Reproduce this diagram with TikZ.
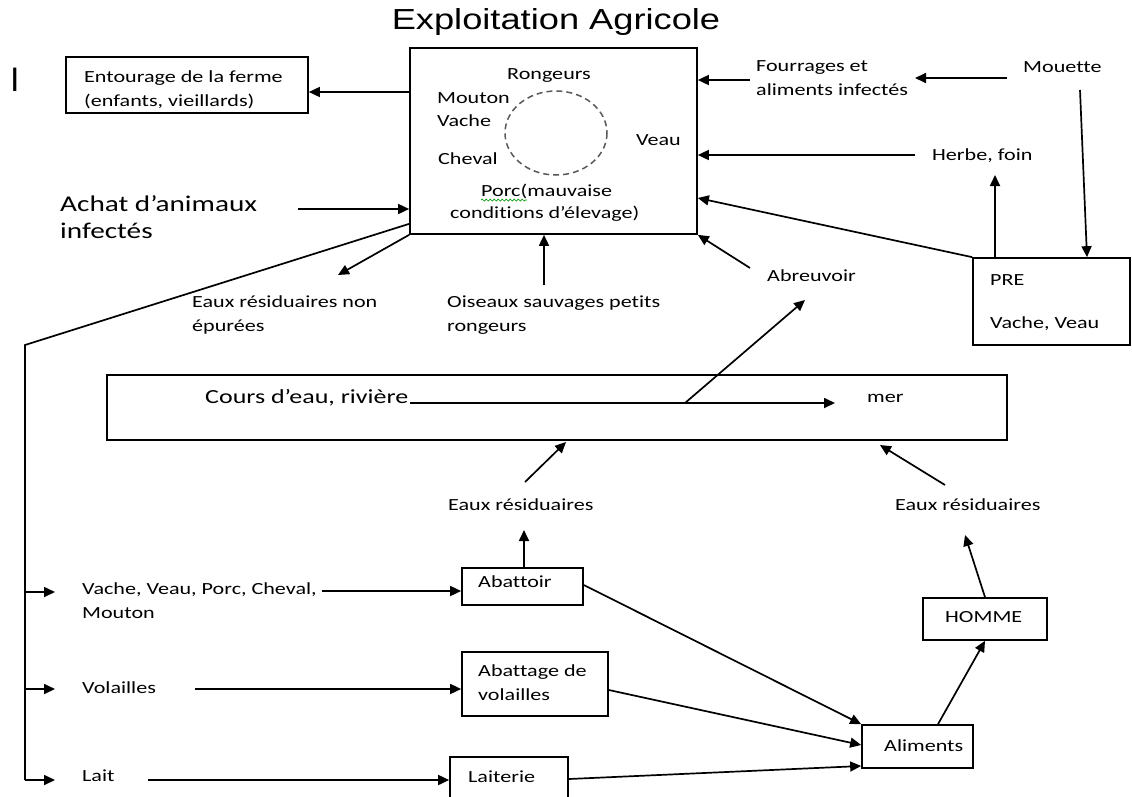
\documentclass[tikz,border=0pt]{standalone}
\usepackage{fontspec}
\setmainfont{Carlito}[FakeStretch=1.3, Ligatures=NoCommon]
\newfontfamily\titlefont{Liberation Sans}[FakeStretch=1.25]
\newfontfamily\barfont{Liberation Sans}
\usetikzlibrary{arrows.meta,decorations.pathmorphing}
\begin{document}
\begin{tikzpicture}[x=1pt,y=-1pt,
  box/.style={draw, line width=1.7pt, rectangle, inner sep=0pt},
  conn/.style={line width=1.7pt, -{Triangle[length=11pt,width=10pt]}},
  plainline/.style={line width=1.7pt},
  lbl/.style={anchor=base west, inner sep=0pt, font=\fontsize{17}{24}\selectfont, align=left},
  biglbl/.style={anchor=base west, inner sep=0pt, font=\fontsize{22.5}{27}\selectfont, align=left}]
\useasboundingbox (0,0) rectangle (1132,796);

% title
\node[inner sep=0pt, font=\titlefont\fontsize{29}{32}\selectfont] (title) at (556,22) {Exploitation Agricole};
\node[anchor=base west, inner sep=0pt, font=\barfont\fontsize{34}{34}\selectfont] (bar) at (10,91) {I};

% boxes
\node[box, minimum width=287pt, minimum height=186pt] (farm) at (553.5,141) {};
\node[box, minimum width=242pt, minimum height=56pt] (ent) at (187,85) {};
\node[box, minimum width=157pt, minimum height=87pt] (pre) at (1051.5,301.5) {};
\node[box, minimum width=900pt, minimum height=65pt] (river) at (557,407.5) {};
\node[box, minimum width=121pt, minimum height=37pt] (abat) at (522.5,586.5) {};
\node[box, minimum width=146pt, minimum height=64pt] (abv) at (535,684) {};
\node[box, minimum width=118pt, minimum height=43pt] (lai) at (509,778.5) {};
\node[box, minimum width=111pt, minimum height=43pt] (alim) at (917.5,746.5) {};
\node[box, minimum width=124pt, minimum height=42pt] (hom) at (985,619) {};

% dashed circle inside the farm
\draw[dash pattern=on 6pt off 4pt, line width=1.5pt, color=black!65] (556,133) ellipse [x radius=51, y radius=42];

% texts
\node[lbl] (tent) at (84,106) {Entourage de la ferme\\(enfants, vieillards)};
\node[lbl] (trong) at (507,79) {Rongeurs};
\node[lbl] (tmout) at (437,103) {Mouton};
\node[lbl] (tvach) at (437,126) {Vache};
\node[lbl] (tchev) at (438,164) {Cheval};
\node[lbl] (tveau) at (636,145) {Veau};
\node[lbl] (tporc) at (481,196) {Porc(mauvaise};
\node[lbl] (tcond) at (450,218) {conditions d’élevage)};
\draw[color=green!60!black, line width=0.7pt, decorate, decoration={snake, amplitude=1pt, segment length=4pt}] (tporc.base west) ++(0,4) -- ++(46,0);
\node[biglbl] (tachat) at (60,238) {Achat d’animaux\\infectés};
\node[lbl] (teauxnon) at (192,331) {Eaux résiduaires non\\épurées};
\node[lbl] (tois) at (447,331) {Oiseaux sauvages petits\\rongeurs};
\node[lbl] (tabr) at (767,281) {Abreuvoir};
\node[lbl] (tfour) at (756,95) {Fourrages et\\aliments infectés};
\node[lbl] (tmou) at (1023,72) {Mouette};
\node[lbl] (therbe) at (932,160) {Herbe, foin};
\node[lbl] (tpre) at (990,285) {PRE};
\node[lbl] (tvv) at (990,328) {Vache, Veau};
\node[lbl, font=\fontsize{20}{24}\selectfont] (tcours) at (205,403) {Cours d’eau, rivière};
\node[lbl] (tmer) at (867,402) {mer};
\node[lbl] (teaux1) at (448,510) {Eaux résiduaires};
\node[lbl] (teaux2) at (895,510) {Eaux résiduaires};
\node[lbl] (tvache) at (82,618) {Vache, Veau, Porc, Cheval,\\Mouton};
\node[lbl] (tabat) at (478,587) {Abattoir};
\node[lbl] (tabv) at (478,700) {Abattage de\\volailles};
\node[lbl] (tvol) at (82,693) {Volailles};
\node[lbl] (tlait) at (82,781) {Lait};
\node[lbl] (tlai) at (468,782) {Laiterie};
\node[lbl] (talim) at (884,751) {Aliments};
\node[lbl] (thom) at (945,622) {HOMME};

% free ends
\coordinate (cachat) at (298,209);
\coordinate (ceauxnon) at (338,275);
\coordinate (cois) at (544,285);
\coordinate (cabr) at (750,268);
\coordinate (cfour) at (750,80);
\coordinate (cmou) at (1007,78);
\coordinate (cmouend) at (915,78);
\coordinate (cmoudown) at (1080,90);
\coordinate (cherbe) at (915,155);
\coordinate (cpreup) at (995,175);
\coordinate (criv1) at (410,403);
\coordinate (criv2) at (835,403);
\coordinate (cmid) at (685,403);
\coordinate (cabrend) at (805,300);
\coordinate (ce1a) at (525,482);
\coordinate (ce1b) at (566,442);
\coordinate (ce2a) at (945,485);
\coordinate (ce2b) at (880,445);
\coordinate (cabatup) at (524,530);
\coordinate (cvache) at (322,591);
\coordinate (cvol) at (195,689);
\coordinate (clait) at (148,780);
\coordinate (chomup) at (965,535);
\coordinate (ctrunk) at (25,345);
\coordinate (cbot) at (25,780);

% connectors around the farm
\draw[conn] (farm.west |- 0,92) -- (ent.east |- 0,92);
\draw[conn] (cachat) -- (farm.west |- cachat);
\draw[plainline] ([yshift=11pt]farm.south west) -- (ctrunk) -- (cbot);
\draw[conn] (ctrunk |- 0,592) -- (55,592);
\draw[conn] (ctrunk |- 0,689) -- (55,689);
\draw[conn] (cbot) -- (55,780);
\draw[conn] (farm.south west) -- (ceauxnon);
\draw[conn] (cois) -- (farm.south -| cois);
\draw[conn] (cabr) -- (farm.south east);
\draw[conn] (cfour) -- (farm.east |- cfour);
\draw[conn] (cmou) -- (cmouend);
\draw[conn] (cmoudown) -- (pre.north -| 1087,0);
\draw[conn] (cherbe) -- (farm.east |- cherbe);
\draw[conn] (pre.north -| cpreup) -- (cpreup);
\draw[conn] (pre.north west) -- (farm.east |- 0,198);

% river
\draw[conn] (criv1) -- (criv2);
\draw[conn] (cmid) -- (cabrend);
\draw[conn] (ce1a) -- (ce1b);
\draw[conn] (ce2a) -- (ce2b);

% bottom chain
\draw[conn] (abat.north -| cabatup) -- (cabatup);
\draw[conn] (cvache) -- (abat.west |- cvache);
\draw[conn] (cvol) -- (abv.west |- cvol);
\draw[conn] (clait) -- (lai.west |- clait);
\draw[conn] (abat.east |- 0,585) -- (alim.north west);
\draw[conn] (abv.east |- 0,690) -- (alim.west |- 0,745);
\draw[conn] (lai.east |- 0,779) -- (alim.west |- 0,766);
\draw[conn] (alim.north -| 938,0) -- (hom.south -| 985,0);
\draw[conn] (hom.north) -- (chomup);
\end{tikzpicture}
\end{document}
